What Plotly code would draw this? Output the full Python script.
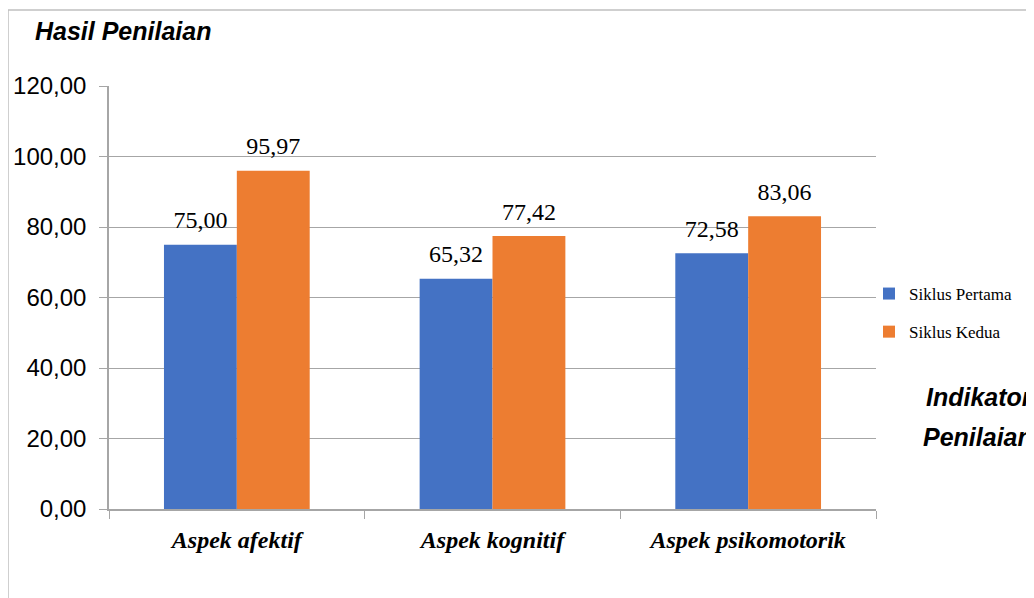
import plotly.graph_objects as go

categories = ["Aspek afektif", "Aspek kognitif", "Aspek psikomotorik"]
siklus_pertama = [75.00, 65.32, 72.58]
siklus_kedua = [95.97, 77.42, 83.06]
series_names = ["Siklus Pertama", "Siklus Kedua"]
y_ticks = [0, 20, 40, 60, 80, 100, 120]
y_tick_labels = ["0,00", "20,00", "40,00", "60,00", "80,00", "100,00", "120,00"]

def fmt(v):
    return f"{v:.2f}".replace(".", ",")

W, H = 1034, 598
OFF = 8  # page offset of the figure inside the browser window
L, R, T, B = 109 - OFF, 876 - OFF, 86 - OFF, 509 - OFF
pw, ph = R - L, B - T

def px(x):
    return (x - OFF - L) / pw

def py(y):
    return (B - (y - OFF)) / ph

GAP = 0.43
fig = go.Figure()
for name, vals, color in [
    (series_names[0], siklus_pertama, "#4472C4"),
    (series_names[1], siklus_kedua, "#ED7D31"),
]:
    fig.add_trace(go.Bar(
        x=categories, y=vals, name=name, legendgroup=name,
        marker=dict(color=color, line=dict(width=0)),
        hovertemplate="%{x}: %{y:.2f}<extra>" + name + "</extra>",
    ))
# value labels, grouped the same way as the bars
for name, vals in [(series_names[0], siklus_pertama), (series_names[1], siklus_kedua)]:
    fig.add_trace(go.Scatter(
        x=categories, y=vals, mode="markers+text", showlegend=False,
        marker=dict(size=15, opacity=0), hoverinfo="skip",
        text=[fmt(v) for v in vals], textposition="top center",
        textfont=dict(family="Liberation Serif", size=24, color="#000000"),
        cliponaxis=False,
    ))

fig.update_layout(
    width=W, height=H,
    margin=dict(l=L, r=W - R, t=T, b=H - B, autoexpand=False),
    plot_bgcolor="white", paper_bgcolor="white",
    barmode="group", bargap=GAP, bargroupgap=0,
    scattermode="group", scattergap=GAP,
    showlegend=True,
    legend=dict(
        x=px(869), y=py(276), xanchor="left", yanchor="top",
        font=dict(family="Liberation Serif", size=17, color="#000000"),
        tracegroupgap=13, itemwidth=30, bgcolor="rgba(0,0,0,0)",
    ),
    xaxis=dict(
        automargin=False,
        showgrid=False, showline=True, linecolor="#A6A6A6", linewidth=1.5,
        ticks="outside", tickson="boundaries", ticklen=8, tickcolor="#A6A6A6",
        ticklabelstandoff=8,
        tickfont=dict(family="Liberation Serif", size=24, color="#000000", weight="bold", style="italic"),
        fixedrange=True,
    ),
    yaxis=dict(
        automargin=False,
        range=[0, 120], tickvals=y_ticks, ticktext=y_tick_labels,
        showgrid=True, gridcolor="#A6A6A6", gridwidth=1.2,
        showline=True, linecolor="#A6A6A6", linewidth=1.5,
        ticks="outside", ticklen=8, tickcolor="#A6A6A6",
        ticklabelstandoff=8,
        tickfont=dict(family="Liberation Sans", size=24, color="#000000"),
        zeroline=False, fixedrange=True,
    ),
    font=dict(family="Liberation Sans"),
)

# outer chart frame (top and left edges)
fig.add_shape(type="line", xref="paper", yref="paper",
              x0=px(8), y0=py(10), x1=px(W + 20), y1=py(10),
              line=dict(color="#BFBFBF", width=1.5))
fig.add_shape(type="line", xref="paper", yref="paper",
              x0=px(8), y0=py(10), x1=px(8), y1=py(H + 20),
              line=dict(color="#BFBFBF", width=1.5))

title_font = dict(family="Liberation Sans", size=25, color="#000000", weight="bold", style="italic")
fig.add_annotation(text="Hasil Penilaian", xref="paper", yref="paper",
                   x=px(33), y=py(31), xanchor="left", yanchor="middle",
                   showarrow=False, font=title_font)
fig.add_annotation(text="Indikator", xref="paper", yref="paper",
                   x=px(924), y=py(397), xanchor="left", yanchor="middle",
                   showarrow=False, font=title_font)
fig.add_annotation(text="Penilaian", xref="paper", yref="paper",
                   x=px(921), y=py(437), xanchor="left", yanchor="middle",
                   showarrow=False, font=title_font)

fig.write_html("out.html")
